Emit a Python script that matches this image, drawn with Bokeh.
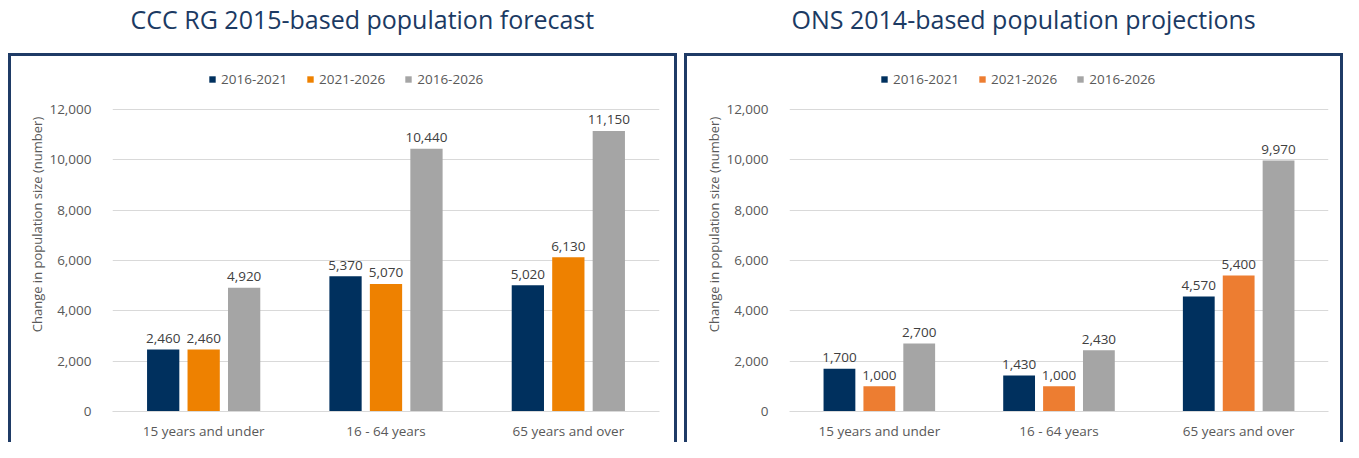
from bokeh.plotting import figure
from bokeh.models import (ColumnDataSource, FactorRange, Range1d, FixedTicker,
                          NumeralTickFormatter, Legend, LegendItem)
from bokeh.layouts import row
from bokeh.transform import dodge
from bokeh.core.properties import value
from bokeh.embed import file_html
from bokeh.resources import INLINE

# ---------------- data ----------------
age_groups = ["15 years and under", "16 - 64 years", "65 years and over"]
series_names = ["2016-2021", "2021-2026", "2016-2026"]

ccc_2016_2021 = [2460, 5370, 5020]
ccc_2021_2026 = [2460, 5070, 6130]
ccc_2016_2026 = [4920, 10440, 11150]

ons_2016_2021 = [1700, 1430, 4570]
ons_2021_2026 = [1000, 1000, 5400]
ons_2016_2026 = [2700, 2430, 9970]

y_ticks = [0, 2000, 4000, 6000, 8000, 10000, 12000]

title_left = "CCC RG 2015-based population forecast"
title_right = "ONS 2014-based population projections"
y_title = "Change in population size (number)"

# ---------------- style ----------------
FONT = "Open Sans"
NAVY = "#00305E"
GREY = "#A5A5A5"
ORANGE_L = "#EE8100"
ORANGE_R = "#ED7D31"
TITLE_C = "#1B3A63"
BORDER_C = "#1F3B66"
TEXT_C = "#595959"
LABEL_C = "#404040"
GRID_C = "#D9D9D9"

HEIGHT = 442
FRAME_TOP = 37
FRAME_BOTTOM = 411
TOP_TICK_Y = 109
BOX_TOP = 53
BORDER_W = 3


def panel_border_css(x0, x1):
    grad = f"linear-gradient({BORDER_C}, {BORDER_C})"
    h = HEIGHT
    w = BORDER_W
    return {
        "background-color": "white",
        "background-image": ", ".join([grad] * 3),
        "background-position": f"{x0}px {BOX_TOP}px, {x0}px {BOX_TOP}px, {x1 - w}px {BOX_TOP}px",
        "background-size": f"{w}px {h}px, {x1 - x0}px {w}px, {w}px {h}px",
        "background-repeat": "no-repeat",
    }


def make_panel(title, series, colors, width, frame_left, frame_right,
               box_left, box_right, title_offset, legend_x):
    px_per_unit = (FRAME_BOTTOM - TOP_TICK_Y) / 12000.0
    y_end = 12000 + (TOP_TICK_Y - FRAME_TOP) / px_per_unit
    p = figure(x_range=FactorRange(factors=age_groups, range_padding=0),
               y_range=Range1d(0, y_end),
               width=width, height=HEIGHT, output_backend="svg",
               toolbar_location=None, tools="", title=title,
               min_border_left=frame_left, min_border_right=width - frame_right,
               min_border_top=FRAME_TOP, min_border_bottom=HEIGHT - FRAME_BOTTOM,
               border_fill_color=None, background_fill_color=None,
               styles=panel_border_css(box_left, box_right))

    data = dict(cat=age_groups)
    for i, vals in enumerate(series):
        data[f"s{i}"] = vals
        data[f"l{i}"] = [f"{v:,}" for v in vals]
    src = ColumnDataSource(data)

    offsets = [-0.222, 0.0, 0.222]
    renderers = []
    for i in range(3):
        r = p.vbar(x=dodge("cat", offsets[i], range=p.x_range), top=f"s{i}",
                   width=0.177, source=src, fill_color=colors[i], line_color=None)
        renderers.append(r)
        p.text(x=dodge("cat", offsets[i], range=p.x_range), y=f"s{i}", text=f"l{i}",
               source=src, text_align="center", text_baseline="alphabetic",
               y_offset=-11, text_font=value(FONT), text_font_size="13.5px",
               text_color=LABEL_C)

    legend = Legend(items=[LegendItem(label=series_names[i], renderers=[renderers[i]])
                           for i in range(3)],
                    orientation="horizontal", location=(legend_x, FRAME_BOTTOM - 88),
                    glyph_width=8, glyph_height=8, label_height=8, label_standoff=5,
                    spacing=19, padding=0, margin=0, border_line_color=None,
                    background_fill_alpha=0, label_text_font=FONT,
                    label_text_font_size="13.5px", label_text_color=TEXT_C)
    p.add_layout(legend)

    # axes
    p.yaxis.ticker = FixedTicker(ticks=y_ticks)
    p.yaxis.formatter = NumeralTickFormatter(format="0,0")
    p.yaxis.axis_line_color = None
    p.yaxis.major_tick_line_color = None
    p.yaxis.minor_tick_line_color = None
    p.yaxis.major_label_standoff = 15
    p.yaxis.major_label_text_font = FONT
    p.yaxis.major_label_text_font_size = "13.5px"
    p.yaxis.major_label_text_color = TEXT_C
    p.yaxis.axis_label = y_title
    p.yaxis.axis_label_standoff = 0
    p.yaxis.axis_label_text_font = FONT
    p.yaxis.axis_label_text_font_style = "normal"
    p.yaxis.axis_label_text_font_size = "13px"
    p.yaxis.axis_label_text_color = TEXT_C

    p.xaxis.axis_line_color = GRID_C
    p.xaxis.axis_line_width = 1
    p.xaxis.major_tick_line_color = None
    p.xaxis.minor_tick_line_color = None
    p.xaxis.major_label_standoff = 4
    p.xaxis.major_label_text_font = FONT
    p.xaxis.major_label_text_font_size = "13.5px"
    p.xaxis.major_label_text_color = TEXT_C

    p.ygrid.ticker = FixedTicker(ticks=y_ticks)
    p.ygrid.grid_line_color = GRID_C
    p.xgrid.grid_line_color = None
    p.outline_line_color = None

    # title
    p.title.text_font = FONT
    p.title.text_font_size = "25px"
    p.title.text_font_style = "normal"
    p.title.text_color = TITLE_C
    p.title.align = "left"
    p.title.vertical_align = "top"
    p.title.offset = title_offset
    p.title.standoff = 0
    return p


p1 = make_panel(title_left, [ccc_2016_2021, ccc_2021_2026, ccc_2016_2026],
                [NAVY, ORANGE_L, GREY], width=677, frame_left=112, frame_right=659,
                box_left=8, box_right=677, title_offset=18, legend_x=96)
p2 = make_panel(title_right, [ons_2016_2021, ons_2021_2026, ons_2016_2026],
                [NAVY, ORANGE_R, GREY], width=666, frame_left=112, frame_right=651,
                box_left=7, box_right=666, title_offset=2, legend_x=91)

layout = row(p1, p2)
open("out.html", "w").write(file_html(layout, INLINE))
